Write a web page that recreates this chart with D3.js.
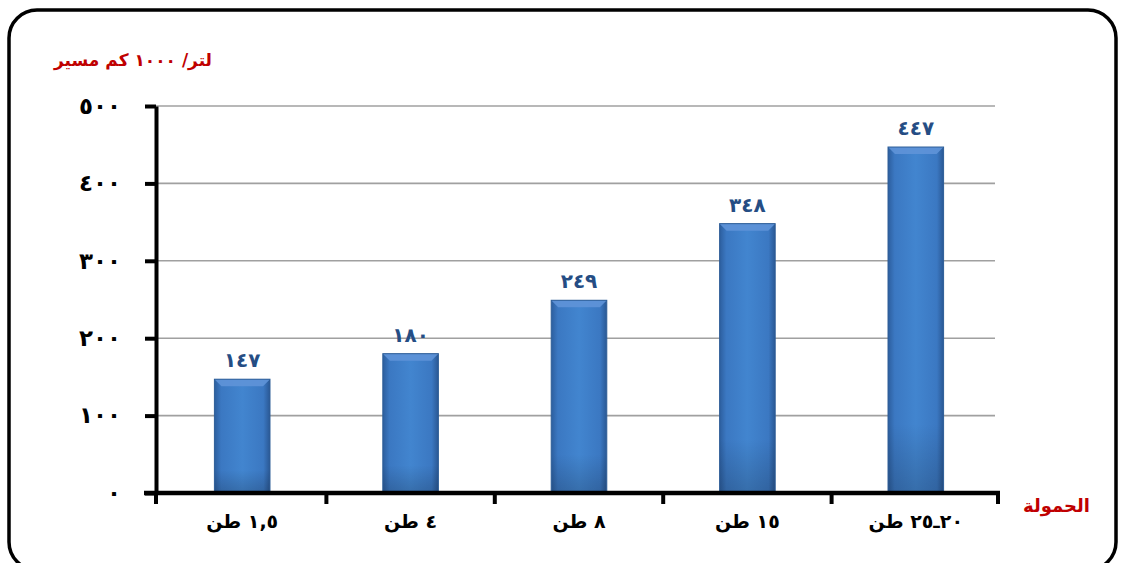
<!DOCTYPE html>
<html><head><meta charset="utf-8">
<script src="https://cdn.jsdelivr.net/npm/d3@7"></script>
<style>body{margin:0;background:#fff}svg{display:block}text{font-family:"DejaVu Sans",sans-serif;font-weight:bold}</style>
</head><body><svg id="c" width="1124" height="563"></svg>
<script>
const categories = ["١,٥ طن","٤ طن","٨ طن","١٥ طن","٢٠ـ٢٥ طن"];
const values = [147,180,249,348,447];
const valueLabels = ["١٤٧","١٨٠","٢٤٩","٣٤٨","٤٤٧"];
const yTicks = [0,100,200,300,400,500];
const yTickLabels = ["٠","١٠٠","٢٠٠","٣٠٠","٤٠٠","٥٠٠"];
const yTitle = "لتر/ ١٠٠٠ كم مسير";
const xTitle = "الحمولة";

const svg = d3.select("#c");
svg.append("rect").attr("x",9).attr("y",10).attr("width",1107).attr("height",560)
  .attr("rx",28).attr("fill","#fff").attr("stroke","#000").attr("stroke-width",3.5);

const x = d3.scaleBand().domain(categories).range([158,1000]).paddingInner(0.67).paddingOuter(0.335);
const y = d3.scaleLinear().domain([0,500]).range([493,106]);

const defs = svg.append("defs");
const g1 = defs.append("linearGradient").attr("id","bar").attr("x1","0").attr("x2","1").attr("y1","0").attr("y2","0");
[[0,"#2c5e9e"],[0.12,"#3b78c2"],[0.5,"#4285cf"],[0.88,"#3b78c2"],[1,"#2a5894"]].forEach(([o,c])=>g1.append("stop").attr("offset",o).attr("stop-color",c));
const g2 = defs.append("linearGradient").attr("id","barv").attr("x1","0").attr("x2","0").attr("y1","0").attr("y2","1");
[[0,"#ffffff",0.0],[0.8,"#000000",0.0],[1,"#000000",0.18]].forEach(([o,c,a])=>g2.append("stop").attr("offset",o).attr("stop-color",c).attr("stop-opacity",a));

// gridlines
svg.append("g").selectAll("line").data(yTicks.filter(d=>d>0)).join("line")
  .attr("x1",156).attr("x2",995).attr("y1",d=>y(d)).attr("y2",d=>y(d))
  .attr("stroke","#a0a0a0").attr("stroke-width",1.6);

// bars
const bars = svg.append("g").selectAll("g").data(values).join("g");
bars.append("rect").attr("x",(d,i)=>x(categories[i])).attr("width",x.bandwidth())
  .attr("y",d=>y(d)).attr("height",d=>y(0)-y(d)).attr("fill","url(#bar)");
bars.append("rect").attr("x",(d,i)=>x(categories[i])).attr("width",x.bandwidth())
  .attr("y",d=>y(d)).attr("height",d=>y(0)-y(d)).attr("fill","url(#barv)");
bars.append("path").attr("d",(d,i)=>{const x0=x(categories[i]),w=x.bandwidth(),t=y(d),b=7;
  return `M${x0},${t}L${x0+w},${t}L${x0+w-b},${t+b}L${x0+b},${t+b}Z`;}).attr("fill","#5f94d8").attr("opacity",0.9);
bars.append("rect").attr("x",(d,i)=>x(categories[i])).attr("width",x.bandwidth())
  .attr("y",d=>y(d)).attr("height",d=>y(0)-y(d)).attr("fill","none").attr("stroke","#2d5d97").attr("stroke-width",1);

// value labels
svg.append("g").selectAll("text").data(values).join("text")
  .attr("x",(d,i)=>x(categories[i])+x.bandwidth()/2).attr("y",d=>y(d)-12)
  .attr("text-anchor","middle").attr("font-size",20).attr("fill","#254d84")
  .text((d,i)=>valueLabels[i]);

// y axis
const ya = svg.append("g").attr("transform","translate(156,0)")
  .call(d3.axisLeft(y).tickValues(yTicks).tickFormat((d,i)=>yTickLabels[i]).tickSizeOuter(0).tickSizeInner(11).tickPadding(24));
ya.select(".domain").attr("stroke","#000").attr("stroke-width",4);
ya.selectAll(".tick line").attr("stroke","#000").attr("stroke-width",4);
ya.selectAll(".tick text").attr("font-size",23).attr("fill","#000").attr("font-family","DejaVu Sans").attr("font-weight","bold");

// x axis
const xa = svg.append("g").attr("transform","translate(0,493)")
  .call(d3.axisBottom(x).tickSize(0).tickPadding(22));
xa.select(".domain").remove();
xa.selectAll(".tick text").attr("font-size",19).attr("fill","#000").attr("font-family","DejaVu Sans").attr("font-weight","bold").attr("direction","rtl");
const edges = [156].concat(categories.slice(1).map(c=>x(c)-x.step()*x.paddingInner()/2)).concat([998]);
xa.append("line").attr("x1",144).attr("x2",1000).attr("y1",0).attr("y2",0).attr("stroke","#000").attr("stroke-width",4.5);
xa.selectAll("line.tk").data(edges).join("line").attr("class","tk")
  .attr("x1",d=>d).attr("x2",d=>d).attr("y1",0).attr("y2",11).attr("stroke","#000").attr("stroke-width",4);

// titles
svg.append("text").attr("x",212).attr("y",66).attr("text-anchor","start").attr("direction","rtl")
  .attr("font-size",17).attr("fill","#c00000").text(yTitle);
svg.append("text").attr("x",1090).attr("y",512).attr("text-anchor","start").attr("direction","rtl")
  .attr("font-size",18).attr("fill","#c00000").text(xTitle);
</script></body></html>
